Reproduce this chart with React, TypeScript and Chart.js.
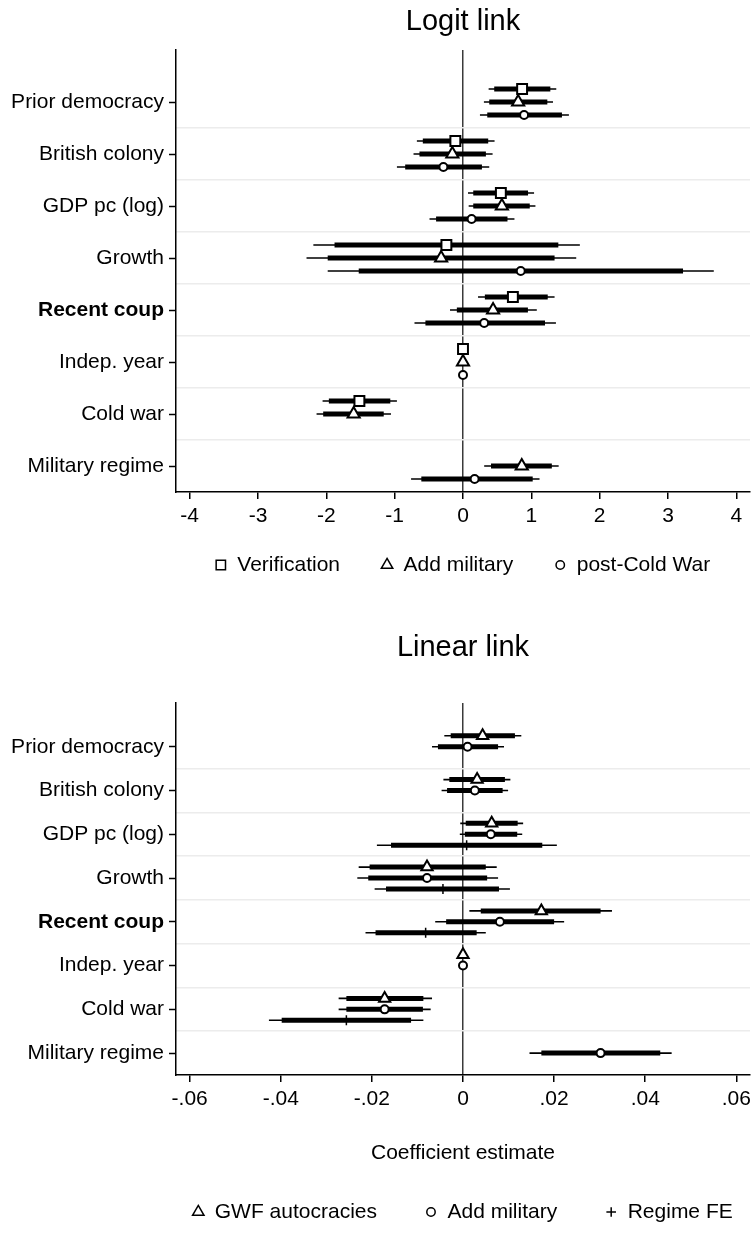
import React, { useEffect, useRef } from "react";
import { Chart, registerables, PointElement } from "chart.js";

Chart.register(...registerables);

const FONT = '"Liberation Sans", Arial, sans-serif';
Chart.defaults.font.family = FONT;
Chart.defaults.color = "#000";

// ---------- shared categories ----------
const CATEGORIES = [
  "Prior democracy",
  "British colony",
  "GDP pc (log)",
  "Growth",
  "Recent coup",
  "Indep. year",
  "Cold war",
  "Military regime",
];
const BOLD_CATEGORY = "Recent coup";

// ---------- top panel (Logit link) ----------
const TOP_TITLE = "Logit link";
const TOP_X_TICKS = [-4, -3, -2, -1, 0, 1, 2, 3, 4];
const TOP_X_TICK_LABELS = ["-4", "-3", "-2", "-1", "0", "1", "2", "3", "4"];

const VERIF_NAME = "Verification";
const VERIF_EST = [0.865, -0.112, 0.554, -0.243, 0.73, 0, -1.516, null];
const VERIF_LO95 = [0.375, -0.675, 0.073, -2.19, 0.22, 0, -2.055, null];
const VERIF_HI95 = [1.365, 0.462, 1.04, 1.71, 1.34, 0, -0.967, null];
const VERIF_LO90 = [0.457, -0.588, 0.15, -1.88, 0.32, 0, -1.963, null];
const VERIF_HI90 = [1.278, 0.369, 0.952, 1.395, 1.24, 0, -1.064, null];

const ADDMIL_L_NAME = "Add military";
const ADDMIL_L_EST = [0.807, -0.156, 0.569, -0.32, 0.44, 0, -1.6, 0.86];
const ADDMIL_L_LO95 = [0.306, -0.724, 0.083, -2.29, -0.19, 0, -2.143, 0.31];
const ADDMIL_L_HI95 = [1.317, 0.433, 1.06, 1.657, 1.08, 0, -1.054, 1.4];
const ADDMIL_L_LO90 = [0.384, -0.637, 0.15, -1.98, -0.09, 0, -2.046, 0.41];
const ADDMIL_L_HI90 = [1.234, 0.335, 0.977, 1.34, 0.95, 0, -1.16, 1.3];

const POSTCW_NAME = "post-Cold War";
const POSTCW_EST = [0.894, -0.287, 0.126, 0.845, 0.31, 0, null, 0.17];
const POSTCW_LO95 = [0.248, -0.967, -0.49, -1.98, -0.71, 0, null, -0.76];
const POSTCW_HI95 = [1.55, 0.384, 0.753, 3.67, 1.36, 0, null, 1.12];
const POSTCW_LO90 = [0.355, -0.846, -0.394, -1.526, -0.55, 0, null, -0.61];
const POSTCW_HI90 = [1.448, 0.277, 0.651, 3.22, 1.2, 0, null, 1.02];

// ---------- bottom panel (Linear link) ----------
const BOTTOM_TITLE = "Linear link";
const BOTTOM_X_TITLE = "Coefficient estimate";
const BOTTOM_X_TICKS = [-0.06, -0.04, -0.02, 0, 0.02, 0.04, 0.06];
const BOTTOM_X_TICK_LABELS = ["-.06", "-.04", "-.02", "0", ".02", ".04", ".06"];

const GWF_NAME = "GWF autocracies";
const GWF_EST = [0.0043, 0.0031, 0.0063, -0.0079, 0.0172, 0, -0.0172, null];
const GWF_LO95 = [-0.0041, -0.0043, -0.0006, -0.0229, 0.0014, 0, -0.0273, null];
const GWF_HI95 = [0.0128, 0.0104, 0.0132, 0.0074, 0.0327, 0, -0.0068, null];
const GWF_LO90 = [-0.0027, -0.003, 0.0006, -0.0205, 0.0039, 0, -0.0256, null];
const GWF_HI90 = [0.0114, 0.0092, 0.012, 0.005, 0.0302, 0, -0.0087, null];

const ADDMIL_B_NAME = "Add military";
const ADDMIL_B_EST = [0.001, 0.0026, 0.0061, -0.0079, 0.0081, 0, -0.0172, 0.0302];
const ADDMIL_B_LO95 = [-0.0068, -0.0047, -0.0007, -0.0232, -0.0061, 0, -0.0273, 0.0146];
const ADDMIL_B_HI95 = [0.009, 0.0099, 0.013, 0.0077, 0.0222, 0, -0.0071, 0.0458];
const ADDMIL_B_LO90 = [-0.0055, -0.0035, 0.0004, -0.0208, -0.0037, 0, -0.0256, 0.0172];
const ADDMIL_B_HI90 = [0.0077, 0.0087, 0.0119, 0.0053, 0.02, 0, -0.0088, 0.0433];

const REGFE_NAME = "Regime FE";
const REGFE_EST = [null, null, 0.0008, -0.0044, -0.0082, null, -0.0256, null];
const REGFE_LO95 = [null, null, -0.0189, -0.0194, -0.0214, null, -0.0426, null];
const REGFE_HI95 = [null, null, 0.0206, 0.0103, 0.005, null, -0.0087, null];
const REGFE_LO90 = [null, null, -0.0158, -0.0169, -0.0192, null, -0.0398, null];
const REGFE_HI90 = [null, null, 0.0174, 0.0079, 0.003, null, -0.0114, null];

// ---------- helpers ----------
type Series = {
  name: string;
  pointStyle: string;
  radius: number;
  pointBorderWidth: number;
  est: (number | null)[];
  lo95: (number | null)[];
  hi95: (number | null)[];
  lo90: (number | null)[];
  hi90: (number | null)[];
};

const ROW_OFFSETS = [-0.25, 0, 0.25];
const LEGEND_RADIUS: Record<string, number> = { rect: 6.6, triangle: 6.6, circle: 4.2, cross: 4.8 };

function buildDatasets(series: Series[]) {
  const lines: any[] = [];
  const markers: any[] = [];
  series.forEach((s, si) => {
    const off = ROW_OFFSETS[si];
    const thin: any[] = [];
    const thick: any[] = [];
    const pts: any[] = [];
    s.est.forEach((e, ci) => {
      if (e === null) return;
      const y = ci + off;
      thin.push({ x: s.lo95[ci], y }, { x: s.hi95[ci], y }, { x: null, y: null });
      thick.push({ x: s.lo90[ci], y }, { x: s.hi90[ci], y }, { x: null, y: null });
      pts.push({ x: e, y });
    });
    lines.push({
      type: "scatter",
      label: s.name + " 95%",
      data: thin,
      showLine: true,
      spanGaps: false,
      borderColor: "#000",
      borderWidth: 1.6,
      borderCapStyle: "butt",
      pointRadius: 0,
      yAxisID: "y",
      order: 5,
    });
    lines.push({
      type: "scatter",
      label: s.name + " 90%",
      data: thick,
      showLine: true,
      spanGaps: false,
      borderColor: "#000",
      borderWidth: 5,
      borderCapStyle: "butt",
      pointRadius: 0,
      yAxisID: "y",
      order: 4,
    });
    markers.push({
      type: "scatter",
      label: s.name,
      isMarker: true,
      data: pts,
      pointStyle: s.pointStyle,
      pointRadius: s.radius,
      pointHoverRadius: s.radius,
      pointBackgroundColor: "#fff",
      pointBorderColor: "#000",
      pointBorderWidth: s.pointBorderWidth,
      yAxisID: "y",
      order: 0,
    });
  });
  return [...lines, ...markers];
}

// Legend drawn from the marker datasets (symbol + label), centred under the plot area.
const markerLegendPlugin = {
  id: "markerLegend",
  afterDraw(chart: any, _args: any, opts: any) {
    if (!opts || opts.y == null) return;
    const items = chart.data.datasets.filter((d: any) => d.isMarker);
    const ctx = chart.ctx;
    ctx.save();
    ctx.font = `${opts.fontSize}px ${FONT}`;
    const widths = items.map((d: any) => ctx.measureText(d.label).width);
    const total =
      widths.reduce((a: number, w: number) => a + opts.boxWidth + opts.markerGap + w, 0) +
      opts.gap * (items.length - 1);
    const area = chart.chartArea;
    let x = (area.left + area.right) / 2 - total / 2;
    items.forEach((d: any, i: number) => {
      const pt: any = new (PointElement as any)({
        x: x + opts.boxWidth / 2,
        y: opts.y,
        options: {
          pointStyle: d.pointStyle,
          radius: LEGEND_RADIUS[d.pointStyle] || 5,
          rotation: 0,
          borderWidth: 1.5,
          backgroundColor: "#fff",
          borderColor: "#000",
        },
      });
      pt.draw(ctx);
      ctx.fillStyle = "#000";
      ctx.textBaseline = "middle";
      ctx.textAlign = "left";
      ctx.font = `${opts.fontSize}px ${FONT}`;
      ctx.fillText(d.label, x + opts.boxWidth + opts.markerGap, opts.y);
      x += opts.boxWidth + opts.markerGap + widths[i] + opts.gap;
    });
    ctx.restore();
  },
};

type PanelCfg = {
  title: string;
  titlePad: { top: number; bottom: number };
  xMin: number;
  xMax: number;
  xTicks: number[];
  xTickLabels: string[];
  xAxisHeight: number;
  xTitle?: string;
  xTitlePadBottom?: number;
  legendY: number;
  legendGap: number;
  padBottom: number;
  series: Series[];
};

function makeConfig(p: PanelCfg): any {
  return {
    type: "scatter",
    data: { datasets: buildDatasets(p.series) },
    plugins: [markerLegendPlugin],
    options: {
      animation: false,
      responsive: false,
      events: [],
      layout: {
        autoPadding: false,
        padding: { left: 0, right: 1, top: 0, bottom: p.padBottom },
      },
      plugins: {
        tooltip: { enabled: false },
        legend: { display: false },
        markerLegend: {
          y: p.legendY,
          gap: p.legendGap,
          boxWidth: 10,
          markerGap: 11.5,
          fontSize: 21,
        },
        title: {
          display: true,
          text: p.title,
          fullSize: false,
          align: "center",
          color: "#000",
          font: { family: FONT, size: 29, weight: "normal", lineHeight: 1.2 },
          padding: p.titlePad,
        },
      },
      scales: {
        x: {
          type: "linear",
          position: "bottom",
          min: p.xMin,
          max: p.xMax,
          afterBuildTicks: (s: any) => {
            s.ticks = p.xTicks.map((v) => ({ value: v }));
          },
          afterFit: (s: any) => {
            s.height = p.xAxisHeight;
            s.paddingLeft = 0;
            s.paddingRight = 0;
          },
          grid: {
            drawOnChartArea: true,
            color: (ctx: any) =>
              ctx.tick && ctx.tick.value === 0 ? "#3a3a3a" : "rgba(0,0,0,0)",
            lineWidth: 1.5,
            drawTicks: true,
            tickLength: 7,
            tickColor: "#000",
            tickWidth: 1.5,
          },
          border: { display: true, color: "#000", width: 1.5 },
          ticks: {
            autoSkip: false,
            maxRotation: 0,
            minRotation: 0,
            padding: 4.4,
            color: "#000",
            font: { family: FONT, size: 21 },
            callback: (_v: any, i: number) => p.xTickLabels[i],
          },
          title: p.xTitle
            ? {
                display: true,
                text: p.xTitle,
                color: "#000",
                font: { family: FONT, size: 21 },
                padding: { top: 0, bottom: p.xTitlePadBottom || 0 },
              }
            : { display: false },
        },
        y: {
          type: "linear",
          position: "left",
          min: -1,
          max: 7.5,
          reverse: true,
          afterBuildTicks: (s: any) => {
            s.ticks = CATEGORIES.map((_c, i) => ({ value: i }));
          },
          afterFit: (s: any) => {
            s.width = 176;
            s.paddingTop = 0;
            s.paddingBottom = 0;
          },
          grid: {
            drawOnChartArea: false,
            drawTicks: true,
            tickLength: 7,
            tickColor: "#000",
            tickWidth: 1.5,
          },
          border: { display: true, color: "#000", width: 1.5 },
          ticks: {
            autoSkip: false,
            padding: 5,
            color: "#000",
            font: (ctx: any) => ({
              family: FONT,
              size: 21,
              weight:
                ctx.tick && CATEGORIES[ctx.tick.value] === BOLD_CATEGORY ? "bold" : "normal",
            }),
            callback: (v: any) => CATEGORIES[v] ?? "",
          },
        },
        yg: {
          type: "linear",
          position: "right",
          min: -1,
          max: 7.5,
          reverse: true,
          afterBuildTicks: (s: any) => {
            s.ticks = CATEGORIES.slice(1).map((_c, i) => ({ value: i + 0.5 }));
          },
          afterFit: (s: any) => {
            s.width = 0;
            s.paddingTop = 0;
            s.paddingBottom = 0;
          },
          grid: { drawOnChartArea: true, drawTicks: false, color: "#ececec", lineWidth: 1.5 },
          border: { display: false },
          ticks: { display: false },
        },
      },
    },
  };
}

const TOP_SERIES: Series[] = [
  { name: VERIF_NAME, pointStyle: "rect", radius: 7, pointBorderWidth: 2, est: VERIF_EST, lo95: VERIF_LO95, hi95: VERIF_HI95, lo90: VERIF_LO90, hi90: VERIF_HI90 },
  { name: ADDMIL_L_NAME, pointStyle: "triangle", radius: 7, pointBorderWidth: 2, est: ADDMIL_L_EST, lo95: ADDMIL_L_LO95, hi95: ADDMIL_L_HI95, lo90: ADDMIL_L_LO90, hi90: ADDMIL_L_HI90 },
  { name: POSTCW_NAME, pointStyle: "circle", radius: 4, pointBorderWidth: 2, est: POSTCW_EST, lo95: POSTCW_LO95, hi95: POSTCW_HI95, lo90: POSTCW_LO90, hi90: POSTCW_HI90 },
];

const BOTTOM_SERIES: Series[] = [
  { name: GWF_NAME, pointStyle: "triangle", radius: 6.5, pointBorderWidth: 2, est: GWF_EST, lo95: GWF_LO95, hi95: GWF_HI95, lo90: GWF_LO90, hi90: GWF_HI90 },
  { name: ADDMIL_B_NAME, pointStyle: "circle", radius: 4, pointBorderWidth: 2, est: ADDMIL_B_EST, lo95: ADDMIL_B_LO95, hi95: ADDMIL_B_HI95, lo90: ADDMIL_B_LO90, hi90: ADDMIL_B_HI90 },
  { name: REGFE_NAME, pointStyle: "cross", radius: 5, pointBorderWidth: 1.5, est: REGFE_EST, lo95: REGFE_LO95, hi95: REGFE_HI95, lo90: REGFE_LO90, hi90: REGFE_HI90 },
];

function ChartCanvas({ config, width, height }: { config: any; width: number; height: number }) {
  const ref = useRef<HTMLCanvasElement | null>(null);
  useEffect(() => {
    if (!ref.current) return;
    const chart = new Chart(ref.current, config);
    return () => chart.destroy();
  }, []);
  return <canvas ref={ref} width={width} height={height} style={{ display: "block", width, height }} />;
}

export default function App() {
  const topCfg = makeConfig({
    title: TOP_TITLE,
    titlePad: { top: 4.6, bottom: 10.6 },
    xMin: -4.2,
    xMax: 4.2,
    xTicks: TOP_X_TICKS,
    xTickLabels: TOP_X_TICK_LABELS,
    xAxisHeight: 39,
    legendY: 565,
    legendGap: 42,
    padBottom: 69,
    series: TOP_SERIES,
  });
  const bottomCfg = makeConfig({
    title: BOTTOM_TITLE,
    titlePad: { top: 30.6, bottom: 37.6 },
    xMin: -0.063,
    xMax: 0.063,
    xTicks: BOTTOM_X_TICKS,
    xTickLabels: BOTTOM_X_TICK_LABELS,
    xAxisHeight: 95,
    xTitle: BOTTOM_X_TITLE,
    xTitlePadBottom: 4.4,
    legendY: 612,
    legendGap: 49,
    padBottom: 64,
    series: BOTTOM_SERIES,
  });
  return (
    <div style={{ position: "absolute", left: 0, top: 0, width: 751, background: "#fff" }}>
      <ChartCanvas config={topCfg} width={751} height={600} />
      <ChartCanvas config={bottomCfg} width={751} height={634} />
    </div>
  );
}
